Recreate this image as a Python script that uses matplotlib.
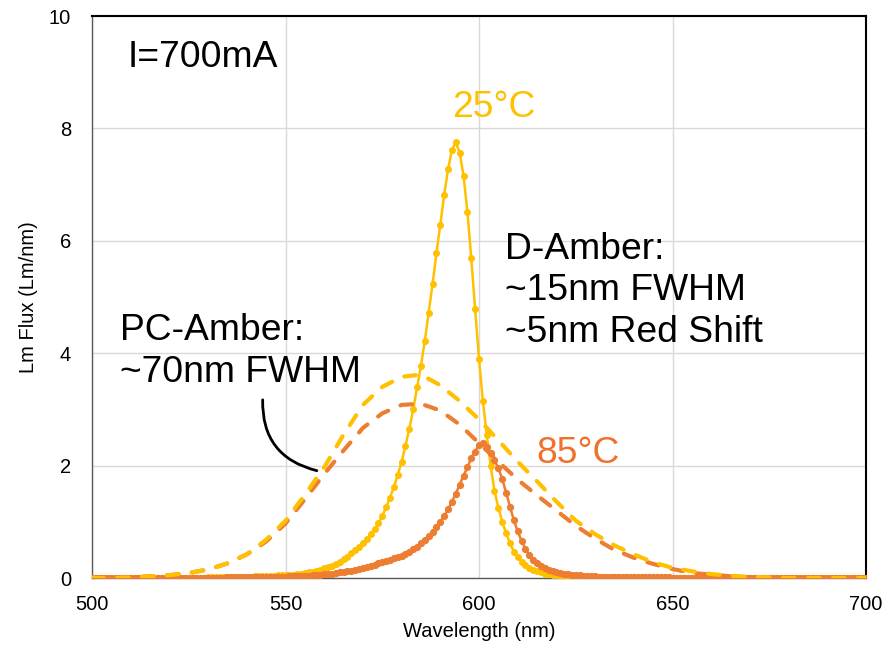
import numpy as np
import matplotlib
matplotlib.use("Agg")
import matplotlib.pyplot as plt

plt.rcParams['font.family'] = ['Liberation Sans', 'DejaVu Sans']

# ---- data ----
wl = list(range(500, 701))  # 1 nm steps for D-Amber spectra

d_amber_25 = (
    [0.00] * 30 +
    [0.01, 0.01, 0.01, 0.01, 0.01, 0.01, 0.01, 0.02, 0.02, 0.02] +          # 530-539
    [0.02, 0.02, 0.03, 0.03, 0.03, 0.03, 0.04, 0.04, 0.05, 0.05] +          # 540-549
    [0.05, 0.06, 0.06, 0.07, 0.08, 0.09, 0.10, 0.11, 0.13, 0.15] +          # 550-559
    [0.17, 0.19, 0.22, 0.25, 0.29, 0.33, 0.38, 0.44, 0.50, 0.56] +          # 560-569
    [0.62, 0.70, 0.78, 0.87, 0.97, 1.10, 1.26, 1.43, 1.62, 1.83] +          # 570-579
    [2.07, 2.35, 2.66, 3.00, 3.39, 3.78, 4.22, 4.72, 5.23, 5.78] +          # 580-589
    [6.29, 6.82, 7.27, 7.62, 7.75, 7.57, 7.16, 6.52, 5.69, 4.78] +          # 590-599
    [3.90, 3.15, 2.55, 2.00, 1.55, 1.25, 1.00, 0.80, 0.62, 0.47] +          # 600-609
    [0.37, 0.29, 0.23, 0.18, 0.14, 0.12, 0.10, 0.08, 0.065, 0.055] +        # 610-619
    [0.045, 0.04, 0.035, 0.03, 0.025, 0.02, 0.02, 0.015, 0.015, 0.01] +     # 620-629
    [0.01] * 10 +                                                           # 630-639
    [0.00] * 61                                                             # 640-700
)

d_amber_85 = (
    [0.00] * 30 +
    [0.00, 0.00, 0.00, 0.00, 0.00, 0.01, 0.01, 0.01, 0.01, 0.01] +          # 530-539
    [0.01, 0.01, 0.01, 0.01, 0.01, 0.02, 0.02, 0.02, 0.02, 0.02] +          # 540-549
    [0.025, 0.03, 0.03, 0.03, 0.035, 0.04, 0.04, 0.045, 0.05, 0.055] +      # 550-559
    [0.065, 0.07, 0.08, 0.09, 0.10, 0.11, 0.12, 0.13, 0.15, 0.16] +         # 560-569
    [0.18, 0.20, 0.22, 0.24, 0.26, 0.28, 0.30, 0.32, 0.35, 0.37] +          # 570-579
    [0.40, 0.43, 0.47, 0.51, 0.56, 0.62, 0.68, 0.75, 0.82, 0.90] +          # 580-589
    [1.00, 1.10, 1.22, 1.36, 1.50, 1.66, 1.82, 1.97, 2.13, 2.25] +          # 590-599
    [2.37, 2.40, 2.33, 2.22, 2.10, 1.95, 1.77, 1.52, 1.27, 1.03] +          # 600-609
    [0.83, 0.66, 0.52, 0.41, 0.32, 0.26, 0.21, 0.17, 0.14, 0.12] +          # 610-619
    [0.10, 0.09, 0.08, 0.07, 0.06, 0.05, 0.045, 0.04, 0.035, 0.03] +        # 620-629
    [0.03, 0.025, 0.025, 0.02, 0.02, 0.02, 0.015, 0.015, 0.015, 0.01] +     # 630-639
    [0.01] * 10 +                                                           # 640-649
    [0.00] * 51                                                             # 650-700
)

wl_pc = list(range(500, 701, 5))  # PC-Amber spectra

pc_amber_25 = [0.00, 0.00, 0.01, 0.03, 0.05, 0.09, 0.15, 0.26, 0.42, 0.68,
               1.02, 1.48, 1.97, 2.55, 3.08, 3.40, 3.58, 3.62, 3.43, 3.15,
               2.82, 2.45, 2.07, 1.72, 1.36, 1.02, 0.78, 0.58, 0.42, 0.28,
               0.18, 0.12, 0.07, 0.04, 0.02, 0.01, 0.00, 0.00, 0.00, 0.00, 0.00]

pc_amber_85 = [0.00, 0.00, 0.01, 0.03, 0.05, 0.09, 0.15, 0.26, 0.42, 0.65,
               0.97, 1.40, 1.85, 2.27, 2.67, 2.93, 3.08, 3.10, 2.98, 2.73,
               2.40, 2.07, 1.75, 1.47, 1.20, 0.93, 0.70, 0.50, 0.36, 0.25,
               0.16, 0.09, 0.06, 0.03, 0.01, 0.00, 0.00, 0.00, 0.00, 0.00, 0.00]

x_ticks = [500, 550, 600, 650, 700]
y_ticks = [0, 2, 4, 6, 8, 10]

YELLOW = "#FFC000"
ORANGE = "#ED7D31"
ORANGE_TXT = "#F0702C"

fig = plt.figure(figsize=(8.95, 6.56), dpi=100)
ax = fig.add_axes([0.1028, 0.1189, 0.8648, 0.8567])

ax.plot(wl, d_amber_25, color=YELLOW, lw=1.8, marker='o', ms=4.0, zorder=3)
ax.plot(wl, d_amber_85, color=ORANGE, lw=1.8, marker='o', ms=4.2, zorder=3)
ax.plot(wl_pc, pc_amber_85, color=ORANGE, lw=3.0, dashes=(2.8, 3.2),
        dash_capstyle='round', zorder=4)
ax.plot(wl_pc, pc_amber_25, color=YELLOW, lw=3.0, dashes=(2.8, 3.2),
        dash_capstyle='round', zorder=4)

ax.set_xlim(500, 700)
ax.set_ylim(0, 10)
ax.set_xticks(x_ticks)
ax.set_yticks(y_ticks)
ax.tick_params(axis='y', length=0, labelsize=14.5, pad=15)
ax.tick_params(axis='x', length=0, labelsize=14.5, pad=12)
ax.grid(True, color="#D9D9D9", lw=1)
ax.set_axisbelow(True)

for s in ['top', 'right']:
    ax.spines[s].set_color('black')
    ax.spines[s].set_linewidth(1.5)
for s in ['left', 'bottom']:
    ax.spines[s].set_color('#595959')
    ax.spines[s].set_linewidth(1.0)

ax.set_xlabel("Wavelength (nm)", fontsize=14.5, labelpad=6)
ax.set_ylabel("Lm Flux (Lm/nm)", fontsize=14.5, labelpad=8)

fs = 26.8
ax.text(509.3, 9.27, "I=700mA", fontsize=fs, ha='left', va='center')
ax.text(593.0, 8.38, "25°C", fontsize=fs, color=YELLOW, ha='left', va='center')
ax.text(606.7, 5.11, "D-Amber:\n~15nm FWHM\n~5nm Red Shift", fontsize=fs,
        ha='left', va='center', linespacing=1.24)
ax.text(507.2, 4.03, "PC-Amber:\n~70nm FWHM", fontsize=fs,
        ha='left', va='center', linespacing=1.24)
ax.text(614.7, 2.22, "85°C", fontsize=fs, color=ORANGE_TXT, ha='left', va='center')

ax.annotate("", xy=(558.1, 1.91), xytext=(544.1, 3.17),
            arrowprops=dict(arrowstyle='-', color='black', lw=2,
                            connectionstyle='arc3,rad=0.4',
                            shrinkA=0, shrinkB=0))

fig.savefig("out.png", dpi=100)
